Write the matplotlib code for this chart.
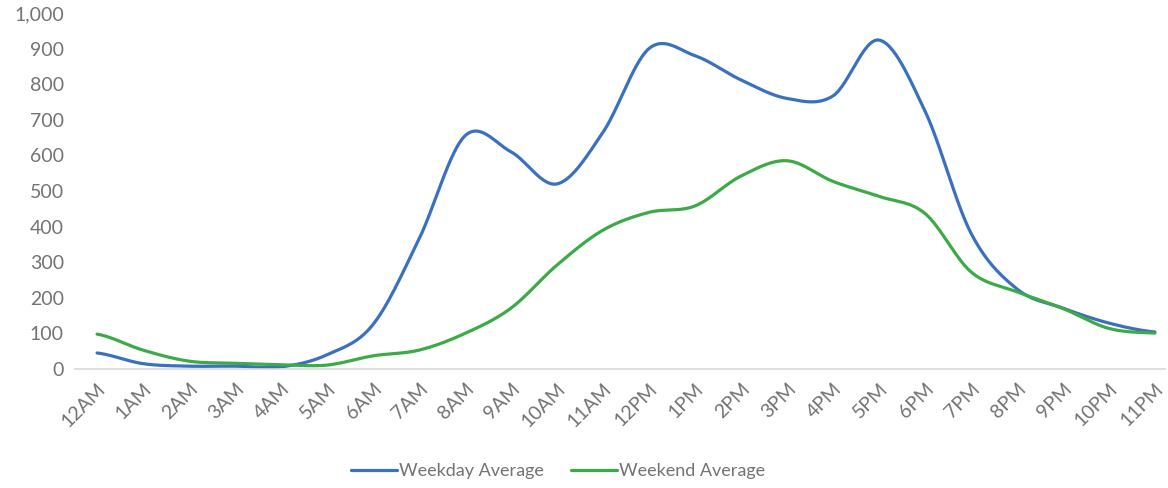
import numpy as np
import matplotlib
matplotlib.use('Agg')
import matplotlib.pyplot as plt
from matplotlib.ticker import FuncFormatter

hours = ['12AM', '1AM', '2AM', '3AM', '4AM', '5AM', '6AM', '7AM', '8AM', '9AM', '10AM', '11AM',
         '12PM', '1PM', '2PM', '3PM', '4PM', '5PM', '6PM', '7PM', '8PM', '9PM', '10PM', '11PM']
weekday = [45, 15, 8, 8, 6, 40, 125, 365, 655, 610, 520, 665,
           900, 880, 812, 760, 767, 924, 725, 382, 225, 171, 129, 104]
weekend = [98, 53, 22, 16, 12, 11, 37, 53, 100, 171, 292, 390,
           440, 458, 542, 585, 527, 485, 437, 273, 217, 170, 114, 101]

# smooth like excel's "smoothed line" (catmull-rom through the points)
def smooth(y, n=30):
    y = np.asarray(y, float)
    p = np.concatenate([[y[0]], y, [y[-1]]])
    xs, ys = [], []
    for i in range(len(y) - 1):
        p0, p1, p2, p3 = p[i], p[i+1], p[i+2], p[i+3]
        t = np.linspace(0, 1, n, endpoint=False)
        v = 0.5 * ((2*p1) + (-p0 + p2)*t + (2*p0 - 5*p1 + 4*p2 - p3)*t**2 + (-p0 + 3*p1 - 3*p2 + p3)*t**3)
        xs.append(i + t)
        ys.append(v)
    xs.append([len(y) - 1])
    ys.append([y[-1]])
    return np.concatenate(xs), np.concatenate(ys)

plt.rcParams['font.family'] = ['Lato', 'DejaVu Sans']
grey = '#737373'

fig = plt.figure(figsize=(11.68, 4.88), dpi=100)
ax = fig.add_axes([75/1168, 1 - 369/488, 1090/1168, 356/488])

x, y = smooth(weekday)
ax.plot(x, y, color='#3A70BD', lw=2.3, label='Weekday Average', solid_capstyle='round')
x, y = smooth(weekend)
ax.plot(x, y, color='#3BAA47', lw=2.3, label='Weekend Average', solid_capstyle='round')

ax.set_ylim(0, 1000)
ax.set_xlim(-0.48, 23.22)
ax.set_yticks(range(0, 1001, 100))
ax.yaxis.set_major_formatter(FuncFormatter(lambda v, p: f'{int(v):,}'))
ax.set_xticks(range(24))
ax.set_xticklabels(hours, rotation=45, ha='right', rotation_mode='anchor')
ax.tick_params(length=0, labelsize=14, colors=grey, pad=8)

for s in ['top', 'right', 'left']:
    ax.spines[s].set_visible(False)
ax.spines['bottom'].set_color('#d9d9d9')
ax.spines['bottom'].set_linewidth(1.2)

leg = fig.legend(loc='center', bbox_to_anchor=(0.478, 1 - 471/488), ncol=2, frameon=False,
                 fontsize=13, handlelength=2.55, handletextpad=0.1, columnspacing=1.5)
for t in leg.get_texts():
    t.set_color(grey)

fig.savefig('out.png', dpi=100)
